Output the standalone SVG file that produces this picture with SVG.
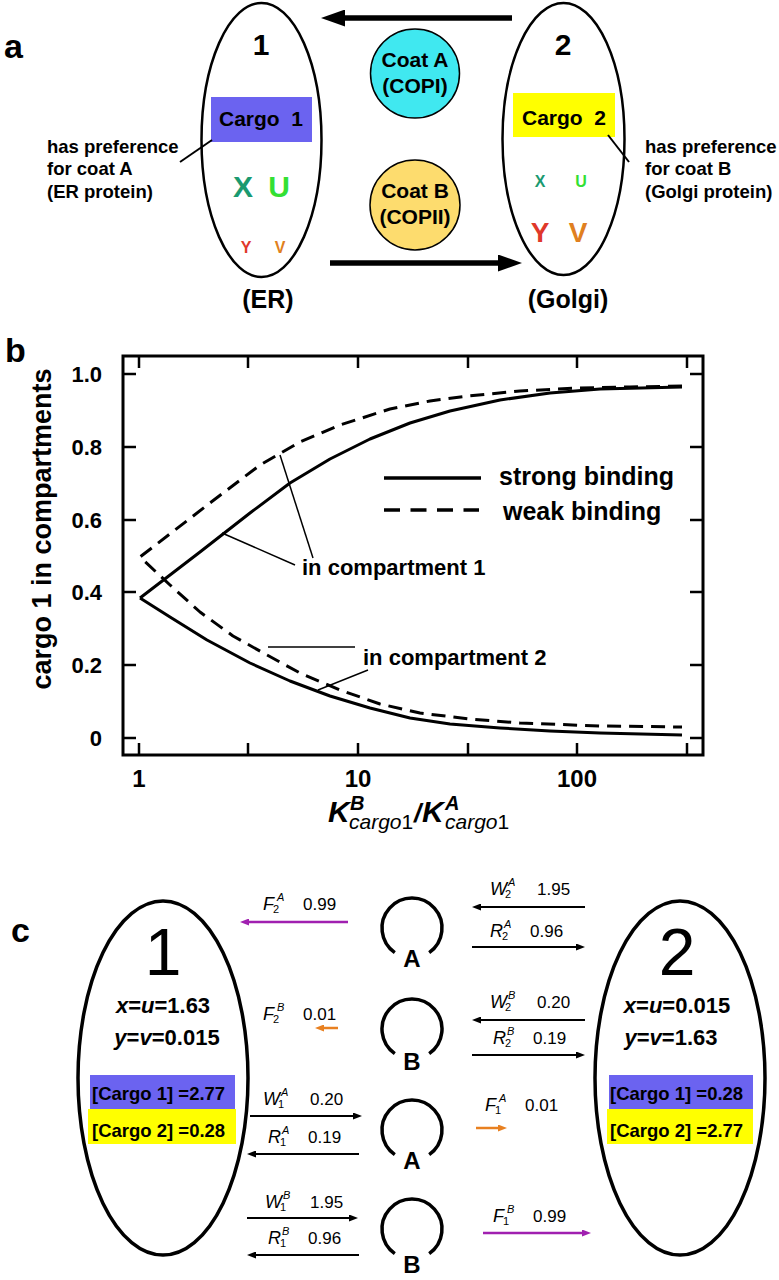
<svg xmlns="http://www.w3.org/2000/svg" width="779" height="1280" viewBox="0 0 779 1280">
<style>
text{font-family:"Liberation Sans",Arial,sans-serif;fill:#000}
.b{font-weight:bold}
.i{font-style:italic}
.m{text-anchor:middle}
.e{text-anchor:end}
.pl{font-size:34px;font-weight:bold}
.cell{fill:none;stroke:#000;stroke-width:2.5}
.cellc{fill:none;stroke:#000;stroke-width:3.5}
.thin{stroke:#000;stroke-width:1.5;fill:none}
.curve{fill:none;stroke:#000;stroke-width:3;stroke-linejoin:round}
.dash{stroke-dasharray:14 8}
.axis{fill:none;stroke:#000;stroke-width:3}
.tick{stroke:#000;stroke-width:2.5}
.coat{fill:none;stroke:#000;stroke-width:3.5}
.arr{stroke:#000;stroke-width:2}
.pur{stroke:#a020b0;stroke-width:2.5}
.ora{stroke:#e88020;stroke-width:2.5}
.big{stroke:#000;stroke-width:5.5}
.lab{font-size:18px;font-style:italic}
.sup{font-size:11px;font-style:italic}
.sub{font-size:11px}
.num{font-size:17px}
</style>
<defs>
<marker id="hb" markerUnits="userSpaceOnUse" markerWidth="24" markerHeight="17" refX="1" refY="8.5" orient="auto"><path d="M0,0 L24,8.5 L0,17 z" fill="#000"/></marker>
<marker id="hk" markerUnits="userSpaceOnUse" markerWidth="9" markerHeight="7" refX="1" refY="3.5" orient="auto"><path d="M0,0 L9,3.5 L0,7 z" fill="#000"/></marker>
<marker id="hp" markerUnits="userSpaceOnUse" markerWidth="9" markerHeight="7" refX="1" refY="3.5" orient="auto"><path d="M0,0 L9,3.5 L0,7 z" fill="#a020b0"/></marker>
<marker id="ho" markerUnits="userSpaceOnUse" markerWidth="9" markerHeight="7" refX="1" refY="3.5" orient="auto"><path d="M0,0 L9,3.5 L0,7 z" fill="#e88020"/></marker>
</defs>

<!-- Panel a -->
<text x="4" y="58" class="pl">a</text>
<g id="er">
<ellipse cx="261.5" cy="140" rx="60" ry="137" class="cell"/>
<text x="261" y="55" class="b m" font-size="30">1</text>
<rect x="211" y="97" width="101" height="45" fill="#6b63f0"/>
<text x="261" y="126" class="b m" font-size="21" xml:space="preserve">Cargo  1</text>
<text x="243" y="197" class="b m" font-size="30" style="fill:#1a9a70">X</text>
<text x="279" y="197" class="b m" font-size="30" style="fill:#33e033">U</text>
<text x="246" y="253" class="b m" font-size="16" style="fill:#e0382a">Y</text>
<text x="280" y="253" class="b m" font-size="16" style="fill:#e08020">V</text>
<text x="268" y="308" class="b m" font-size="25">(ER)</text>
</g>
<g id="er-note">
<text class="b" font-size="18.5"><tspan x="47" y="153">has preference</tspan><tspan x="47" y="175">for coat A</tspan><tspan x="47" y="198">(ER protein)</tspan></text>
</g>
<g id="golgi">
<ellipse cx="563.5" cy="139" rx="61" ry="136" class="cell"/>
<text x="563" y="55" class="b m" font-size="30">2</text>
<rect x="513" y="93" width="102" height="44" fill="#ffff00"/>
<text x="564" y="125" class="b m" font-size="21" xml:space="preserve">Cargo  2</text>
<text x="540" y="187" class="b m" font-size="16" style="fill:#1a9a70">X</text>
<text x="581" y="187" class="b m" font-size="16" style="fill:#33e033">U</text>
<text x="540" y="242" class="b m" font-size="28" style="fill:#e0382a">Y</text>
<text x="578" y="242" class="b m" font-size="28" style="fill:#e08020">V</text>
<text x="568" y="308" class="b m" font-size="25">(Golgi)</text>
</g>
<g id="golgi-note">
<text class="b" font-size="18.5"><tspan x="645" y="153">has preference</tspan><tspan x="645" y="175">for coat B</tspan><tspan x="645" y="198">(Golgi protein)</tspan></text>
</g>
<g id="coatA">
<circle cx="415" cy="73.5" r="44.5" fill="#40e8f0" stroke="#000" stroke-width="1.5"/>
<text x="415" y="67" class="b m" font-size="21">Coat A</text>
<text x="415" y="93" class="b m" font-size="21">(COPI)</text>
</g>
<g id="coatB">
<circle cx="415" cy="205" r="45" fill="#fddc6e" stroke="#000" stroke-width="1.5"/>
<text x="415" y="198" class="b m" font-size="21">Coat B</text>
<text x="415" y="224" class="b m" font-size="21">(COPII)</text>
</g>
<g id="connectors-a">
<line x1="512" y1="18" x2="344" y2="18" class="big" marker-end="url(#hb)"/>
<line x1="330" y1="263" x2="499" y2="263" class="big" marker-end="url(#hb)"/>
<line x1="180" y1="162" x2="212" y2="140" stroke="#000" stroke-width="2"/>
<line x1="608" y1="135" x2="629" y2="162" stroke="#000" stroke-width="2"/>
</g>

<!-- Panel b -->
<text x="5" y="362" class="pl">b</text>
<g id="plot">
<rect x="123" y="356" width="580" height="399" class="axis"/>
<g class="tick">
<line x1="139" y1="356" x2="139" y2="368"/><line x1="248" y1="356" x2="248" y2="368"/><line x1="358" y1="356" x2="358" y2="368"/><line x1="468" y1="356" x2="468" y2="368"/><line x1="577" y1="356" x2="577" y2="368"/><line x1="687" y1="356" x2="687" y2="368"/>
<line x1="139" y1="755" x2="139" y2="743"/><line x1="248" y1="755" x2="248" y2="743"/><line x1="358" y1="755" x2="358" y2="743"/><line x1="468" y1="755" x2="468" y2="743"/><line x1="577" y1="755" x2="577" y2="743"/><line x1="687" y1="755" x2="687" y2="743"/>
<line x1="123" y1="374" x2="136" y2="374"/><line x1="123" y1="447" x2="136" y2="447"/><line x1="123" y1="520" x2="136" y2="520"/><line x1="123" y1="592" x2="136" y2="592"/><line x1="123" y1="665" x2="136" y2="665"/><line x1="123" y1="738" x2="136" y2="738"/>
<line x1="703" y1="374" x2="690" y2="374"/><line x1="703" y1="447" x2="690" y2="447"/><line x1="703" y1="520" x2="690" y2="520"/><line x1="703" y1="592" x2="690" y2="592"/><line x1="703" y1="665" x2="690" y2="665"/><line x1="703" y1="738" x2="690" y2="738"/>
</g>
<g class="b e" font-size="22">
<text x="102" y="382">1.0</text><text x="102" y="455">0.8</text><text x="102" y="528">0.6</text><text x="102" y="600">0.4</text><text x="102" y="673">0.2</text><text x="102" y="746">0</text>
</g>
<g class="b m" font-size="24">
<text x="139" y="787">1</text><text x="358" y="787">10</text><text x="577" y="787">100</text>
</g>
<text transform="translate(51,529) rotate(-90)" class="b m" font-size="27">cargo 1 in compartments</text>
<text x="328" y="822" class="b i" font-size="30">K</text>
<text x="350" y="810" class="b i" font-size="20">B</text>
<text x="349" y="829" class="i" font-size="21">cargo<tspan font-style="normal">1</tspan></text>
<text x="414" y="822" class="b i" font-size="26">/</text>
<text x="422" y="822" class="b i" font-size="30">K</text>
<text x="445" y="810" class="b i" font-size="20">A</text>
<text x="445" y="829" class="i" font-size="21">cargo<tspan font-style="normal">1</tspan></text>
<path class="curve" d="M140,598 L200,552 L250,513 L290,483 L330,459 L370,439 L410,423 L450,411 L500,400 L550,393 L600,389 L682,387"/>
<path class="curve" d="M140,598 L170,617 L207,640 L250,663 L290,681 L330,696 L370,708 L410,718 L450,724 L500,728 L550,731 L600,733 L682,735"/>
<path class="curve dash" d="M682,386 L630,387 L577,388 L520,391 L468,396 L430,401 L390,409 L340,425 L300,442 L260,465 L210,503 L140,557 L170,585 L200,612 L233,636 L267,655 L300,673 L340,690 L380,704 L420,713 L470,719 L520,723 L600,726 L682,727"/>
<line x1="384" y1="478" x2="481" y2="478" stroke="#000" stroke-width="3.5"/>
<line x1="384" y1="510" x2="479" y2="510" stroke="#000" stroke-width="3.5" stroke-dasharray="16 10.5"/>
<text x="499" y="485" class="b" font-size="25">strong binding</text>
<text x="503" y="520" class="b" font-size="25">weak binding</text>
<text x="302" y="575" class="b" font-size="22">in compartment 1</text>
<text x="363" y="665" class="b" font-size="22">in compartment 2</text>
<line x1="295" y1="565" x2="222" y2="533" class="thin"/>
<line x1="313" y1="558" x2="280" y2="455" class="thin"/>
<line x1="268" y1="647" x2="355" y2="647" class="thin"/>
<line x1="368" y1="670" x2="318" y2="690" class="thin"/>
</g>

<!-- Panel c -->
<text x="11" y="942" class="pl">c</text>
<g id="compartment1">
<ellipse cx="163" cy="1078" rx="85" ry="177" class="cellc"/>
<text x="163" y="975" class="m" font-size="66">1</text>
<text x="163" y="1013" class="b m" font-size="22"><tspan class="i">x</tspan>=<tspan class="i">u</tspan>=1.63</text>
<text x="167" y="1045" class="b m" font-size="22"><tspan class="i">y</tspan>=<tspan class="i">v</tspan>=0.015</text>
<rect x="90" y="1075" width="145" height="34" fill="#6b63f0"/>
<rect x="88" y="1109" width="148" height="35" fill="#ffff00"/>
<text x="92" y="1100" class="b" font-size="18.5">[Cargo 1] =2.77</text>
<text x="92" y="1137" class="b" font-size="18.5">[Cargo 2] =0.28</text>
</g>
<g id="compartment2">
<ellipse cx="680" cy="1078" rx="85" ry="177" class="cellc"/>
<text x="677" y="975" class="m" font-size="66">2</text>
<text x="677" y="1013" class="b m" font-size="22"><tspan class="i">x</tspan>=<tspan class="i">u</tspan>=0.015</text>
<text x="671" y="1045" class="b m" font-size="22"><tspan class="i">y</tspan>=<tspan class="i">v</tspan>=1.63</text>
<rect x="609" y="1075" width="144" height="34" fill="#6b63f0"/>
<rect x="607" y="1109" width="146" height="35" fill="#ffff00"/>
<text x="610" y="1100" class="b" font-size="18.5">[Cargo 1] =0.28</text>
<text x="610" y="1137" class="b" font-size="18.5">[Cargo 2] =2.77</text>
</g>
<g id="coatA1">
<path class="coat" d="M394.8,952.6 A30,30 0 1 1 429.2,952.6"/>
<text x="412" y="967" class="b m" font-size="24">A</text>
</g>
<g id="coatB1">
<path class="coat" d="M394.8,1053.6 A30,30 0 1 1 429.2,1053.6"/>
<text x="412" y="1070" class="b m" font-size="24">B</text>
</g>
<g id="coatA2">
<path class="coat" d="M394.8,1154.6 A30,30 0 1 1 429.2,1154.6"/>
<text x="412" y="1169" class="b m" font-size="24">A</text>
</g>
<g id="coatB2">
<path class="coat" d="M394.8,1253.6 A30,30 0 1 1 429.2,1253.6"/>
<text x="412" y="1273" class="b m" font-size="24">B</text>
</g>
<g id="connectors-c">
<line x1="348" y1="922" x2="248" y2="922" class="pur" marker-end="url(#hp)"/>
<line x1="338" y1="1028" x2="323" y2="1028" class="ora" marker-end="url(#ho)"/>
<line x1="250" y1="1116" x2="354" y2="1116" class="arr" marker-end="url(#hk)"/>
<line x1="359" y1="1154" x2="255" y2="1154" class="arr" marker-end="url(#hk)"/>
<line x1="247" y1="1218" x2="350" y2="1218" class="arr" marker-end="url(#hk)"/>
<line x1="359" y1="1255" x2="255" y2="1255" class="arr" marker-end="url(#hk)"/>
<line x1="585" y1="907" x2="480" y2="907" class="arr" marker-end="url(#hk)"/>
<line x1="472" y1="947" x2="577" y2="947" class="arr" marker-end="url(#hk)"/>
<line x1="585" y1="1020" x2="480" y2="1020" class="arr" marker-end="url(#hk)"/>
<line x1="472" y1="1055" x2="577" y2="1055" class="arr" marker-end="url(#hk)"/>
<line x1="476" y1="1128" x2="499" y2="1128" class="ora" marker-end="url(#ho)"/>
<line x1="483" y1="1233" x2="583" y2="1233" class="pur" marker-end="url(#hp)"/>
</g>
<g id="rate-labels">
<text x="263" y="910" class="lab">F</text><text x="277" y="901" class="sup">A</text><text x="273" y="913" class="sub">2</text><text x="303" y="910" class="num">0.99</text>
<text x="263" y="1020" class="lab">F</text><text x="277" y="1011" class="sup">B</text><text x="273" y="1023" class="sub">2</text><text x="303" y="1020" class="num">0.01</text>
<text x="263" y="1105" class="lab">W</text><text x="281" y="1096" class="sup">A</text><text x="278" y="1108" class="sub">1</text><text x="310" y="1105" class="num">0.20</text>
<text x="268" y="1143" class="lab">R</text><text x="282" y="1134" class="sup">A</text><text x="280" y="1146" class="sub">1</text><text x="308" y="1143" class="num">0.19</text>
<text x="265" y="1208" class="lab">W</text><text x="283" y="1199" class="sup">B</text><text x="280" y="1211" class="sub">1</text><text x="310" y="1208" class="num">1.95</text>
<text x="268" y="1244" class="lab">R</text><text x="282" y="1235" class="sup">B</text><text x="280" y="1247" class="sub">1</text><text x="308" y="1244" class="num">0.96</text>
<text x="490" y="895" class="lab">W</text><text x="508" y="886" class="sup">A</text><text x="505" y="898" class="sub">2</text><text x="537" y="895" class="num">1.95</text>
<text x="490" y="937" class="lab">R</text><text x="504" y="928" class="sup">A</text><text x="502" y="940" class="sub">2</text><text x="530" y="937" class="num">0.96</text>
<text x="490" y="1008" class="lab">W</text><text x="508" y="999" class="sup">B</text><text x="505" y="1011" class="sub">2</text><text x="537" y="1008" class="num">0.20</text>
<text x="493" y="1044" class="lab">R</text><text x="507" y="1035" class="sup">B</text><text x="505" y="1047" class="sub">2</text><text x="533" y="1044" class="num">0.19</text>
<text x="485" y="1111" class="lab">F</text><text x="499" y="1102" class="sup">A</text><text x="495" y="1114" class="sub">1</text><text x="525" y="1111" class="num">0.01</text>
<text x="493" y="1222" class="lab">F</text><text x="507" y="1213" class="sup">B</text><text x="503" y="1225" class="sub">1</text><text x="533" y="1222" class="num">0.99</text>
</g>
</svg>
